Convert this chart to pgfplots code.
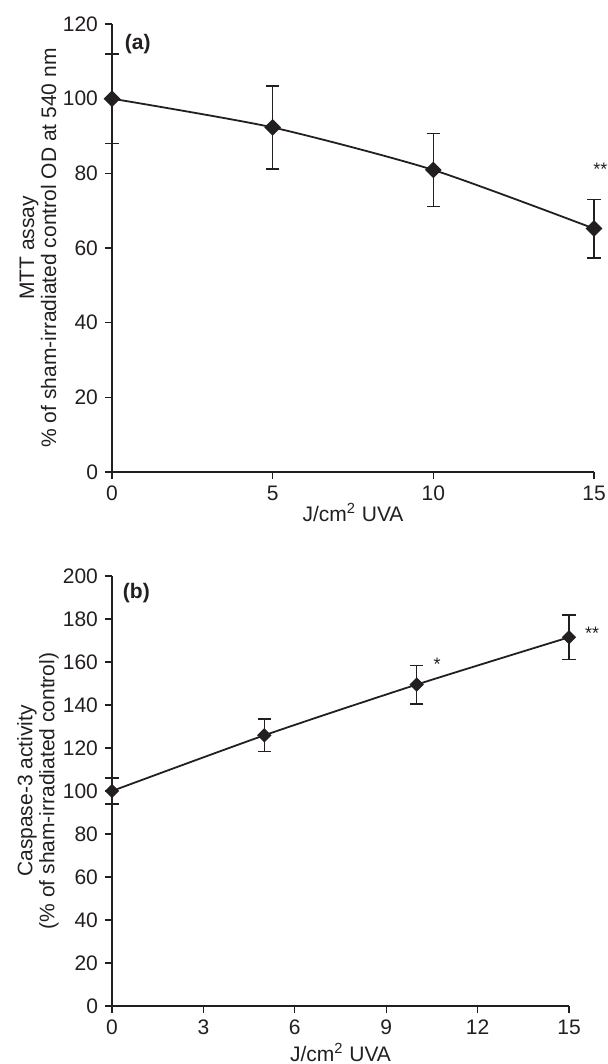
\documentclass[border=0pt]{standalone}
\usepackage{fontspec}
\setmainfont{Liberation Sans}
\usepackage{pgfplots}
\pgfplotsset{compat=1.18}
\definecolor{ink}{HTML}{231F20}

\pgfplotsset{
  panel/.style={
    scale only axis, axis lines*=left, tick align=outside,
    major tick length=3.5pt, axis line style={ink, line width=0.6pt},
    every tick/.style={ink, line width=0.6pt},
    tick label style={font=\fontsize{10.5}{12}\selectfont, text=ink},
    label style={font=\fontsize{10.5}{11}\selectfont, text=ink},
    /pgf/number format/assume math mode=true,
    xmin=0, xmax=15, clip=false,
    ylabel style={at={(axis description cs:0,0.5)}, anchor=center, align=center},
  },
  series/.style={ink, line width=0.9pt, smooth, tension=0.4,
    mark=square*, mark options={rotate=45, solid, fill=ink},
    error bars/y dir=both, error bars/y explicit,
    error bars/error bar style={ink, line width=0.8pt},
    error bars/error mark options={rotate=90, ink, line width=0.8pt, mark size=3.3pt}},
}

\begin{document}
\begin{tikzpicture}
\path[use as bounding box] (-56pt,-296pt) rectangle (248pt,236pt);

% (a) MTT assay
\begin{axis}[panel, at={(0pt,0pt)}, anchor=origin,
  width=241pt, height=224pt,
  ymin=0, ymax=120, ytick={0,20,...,120}, xtick={0,5,10,15},
  xlabel={J/cm\textsuperscript{2} UVA},
  ylabel={MTT assay\\\% of sham-irradiated control OD at 540 nm},
  ylabel style={yshift=37pt},
  xlabel style={yshift=5.5pt},
]
\addplot+[series, mark size=2.5pt] coordinates {
  (0,100) +- (0,12.0)
  (5,92.3) +- (0,11.1)
  (10,80.9) +- (0,9.8)
  (15,65.2) +- (0,7.8)
};
\node[font=\bfseries\fontsize{10.5}{12}\selectfont, text=ink] at (axis cs:0.8,114.5) {(a)};
\node[font=\fontsize{9}{10}\selectfont, text=ink] at (axis cs:15.2,81) {**};
\end{axis}

% (b) Caspase-3 activity
\begin{axis}[panel, at={(0pt,-267pt)}, anchor=origin,
  width=228.5pt, height=215pt,
  ymin=0, ymax=200, ytick={0,20,...,200}, xtick={0,3,...,15},
  xlabel={J/cm\textsuperscript{2} UVA},
  ylabel={Caspase-3 activity\\(\% of sham-irradiated control)},
  ylabel style={yshift=37pt},
  xlabel style={yshift=2.5pt},
]
\addplot+[series, mark size=2.1pt] coordinates {
  (0,100) +- (0,6.1)
  (5,125.9) +- (0,7.5)
  (10,149.5) +- (0,8.9)
  (15,171.5) +- (0,10.4)
};
\node[font=\bfseries\fontsize{10.5}{12}\selectfont, text=ink] at (axis cs:0.8,192) {(b)};
\node[font=\fontsize{9}{10}\selectfont, text=ink] at (axis cs:10.67,159) {*};
\node[font=\fontsize{9}{10}\selectfont, text=ink] at (axis cs:15.76,173.5) {**};
\end{axis}
\end{tikzpicture}
\end{document}
